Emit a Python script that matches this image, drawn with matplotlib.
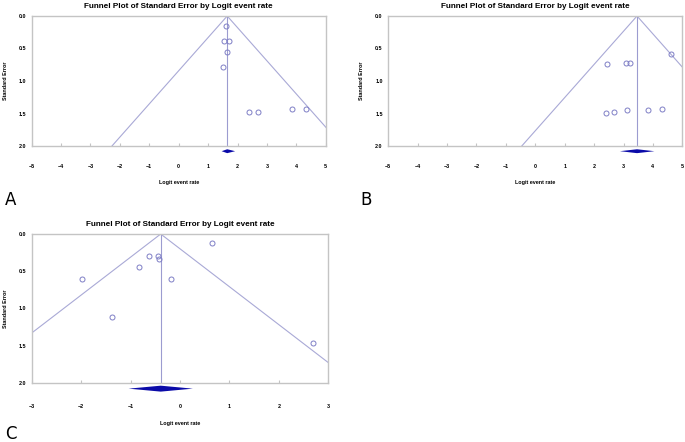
import numpy as np
import matplotlib
matplotlib.use("Agg")
import matplotlib.pyplot as plt

plt.rcParams['font.family'] = ['Liberation Sans', 'DejaVu Sans']

# panel A
a_x = [1.60, 1.55, 1.70, 1.64, 1.50, 2.38, 2.71, 3.85, 4.33]
a_se = [0.15, 0.39, 0.39, 0.55, 0.79, 1.48, 1.47, 1.43, 1.43]
a_pool = [1.65, 1.46, 1.92]   # estimate, lower, upper

# panel B
b_x = [4.61, 2.43, 3.07, 3.21, 2.39, 2.69, 3.13, 3.84, 4.31]
b_se = [0.585, 0.74, 0.73, 0.73, 1.49, 1.47, 1.45, 1.44, 1.43]
b_pool = [3.46, 2.88, 4.05]

# panel C
c_x = [-1.99, -1.38, -0.82, -0.63, -0.44, -0.42, -0.18, 0.65, 2.70]
c_se = [0.61, 1.12, 0.45, 0.29, 0.30, 0.33, 0.605, 0.117, 1.46]
c_pool = [-0.39, -1.04, 0.26]

a_ticks = [-5, -4, -3, -2, -1, 0, 1, 2, 3, 4, 5]
c_ticks = [-3, -2, -1, 0, 1, 2, 3]
se_ticks = [0.0, 0.5, 1.0, 1.5, 2.0]

FRAME = '#c4c4c4'
LINE = '#a9a9d6'
PT = '#7f7fc6'
DIAM = '#0a0aa8'


def funnel(ax, xs, ses, pool, xlim, ticks, dh, ty, lab_y):
    est, lo, hi = pool
    ax.set_xlim(xlim)
    ax.set_ylim(2.0, 0.0)
    for sgn in (-1, 1):
        ax.plot([est, est + sgn * 1.96 * 2.0], [0, 2.0], color=LINE, lw=0.8)
    ax.plot([est, est], [0, 2.0], color='#9c9cd0', lw=0.8)
    ax.plot(xs, ses, 'o', mfc='none', mec=PT, ms=3.6, mew=0.7)
    ax.fill([lo, est, hi, est], [2.08, 2.08 - dh, 2.08, 2.08 + dh],
            color=DIAM, clip_on=False, lw=0)
    ax.set_xticks(ticks)
    ax.set_yticks(se_ticks)
    ax.set_yticklabels([f"{v:.1f}" for v in se_ticks])
    ax.tick_params(axis='x', direction='in', length=2, color=FRAME,
                   labelsize=3.9, pad=ty)
    ax.tick_params(axis='y', length=0, labelsize=3.9, pad=4)
    for t in ax.get_xticklabels() + ax.get_yticklabels():
        t.set_fontweight('bold')
    for s in ax.spines.values():
        s.set_color(FRAME)
        s.set_linewidth(1.0)
    ax.set_title("Funnel Plot of Standard Error by Logit event rate",
                 fontsize=5.9, fontweight='bold', pad=6)
    ax.set_xlabel("Logit event rate", fontsize=3.9, fontweight='bold',
                  labelpad=lab_y)
    ax.set_ylabel("Standard Error", fontsize=3.9, fontweight='bold',
                  labelpad=8)


fig = plt.figure(figsize=(6.85, 4.42), dpi=100)
W, H = 685, 442
axA = fig.add_axes([31.7 / W, 1 - 146 / H, 294 / W, 130 / H])
axB = fig.add_axes([388.3 / W, 1 - 146 / H, 294 / W, 130 / H])
axC = fig.add_axes([31.7 / W, 1 - 382.7 / H, 296.6 / W, 148.7 / H])

funnel(axA, a_x, a_se, a_pool, (-5, 5), a_ticks, 0.03, 13, 8)
funnel(axB, b_x, b_se, b_pool, (-5, 5), a_ticks, 0.03, 13, 8)
funnel(axC, c_x, c_se, c_pool, (-3, 3), c_ticks, 0.04, 15, 9)

fig.text(5 / W, 1 - 205 / H, "A", fontsize=12, family='DejaVu Sans')
fig.text(360 / W, 1 - 205 / H, "B", fontsize=12, family='DejaVu Sans')
fig.text(5 / W, 1 - 439 / H, "C", fontsize=12, family='DejaVu Sans')

fig.savefig("out.png", dpi=100)
